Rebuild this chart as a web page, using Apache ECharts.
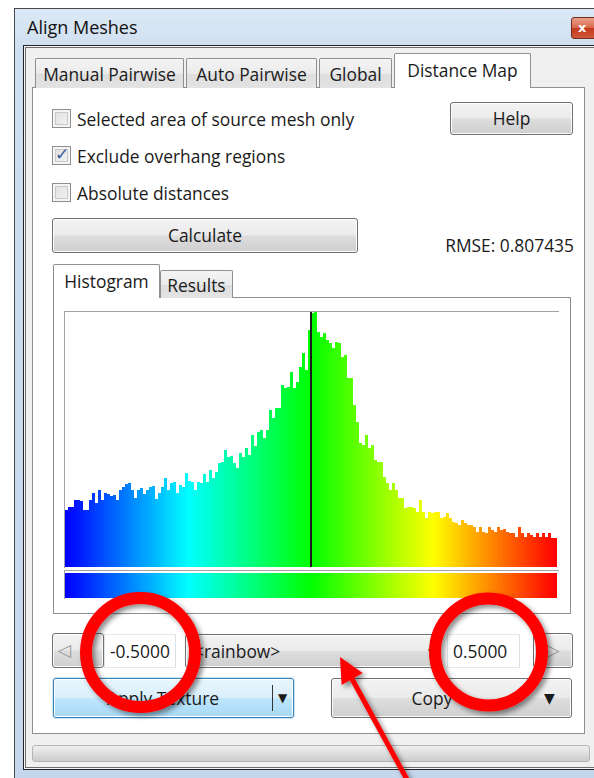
<!DOCTYPE html>
<html>
<head>
<meta charset="utf-8">
<title>Align Meshes</title>
<script src="https://cdn.jsdelivr.net/npm/echarts@6/dist/echarts.min.js"></script>
<style>
body{margin:0;width:594px;height:778px;overflow:hidden;background:#fff;position:relative;
  font-family:"Open Sans","Noto Sans",sans-serif;font-size:17.4px;color:#1a1a1a}
.a{position:absolute;box-sizing:border-box}
.win{left:14px;top:8px;width:600px;height:790px;border:1px solid #4a4a4a;
  background:linear-gradient(180deg,#dce8f5 0,#cfdff0 40px,#c4d6ec 100%)}
.title{left:27px;top:15px;font-size:18px;color:#111}
.close{left:571px;top:17px;width:30px;height:22px;border:1px solid #6e2d1f;border-radius:3px;
  background:linear-gradient(180deg,#e9a08a 0,#d8664a 50%,#c2391f 51%,#d0563a 100%);
  color:#fff;font:bold 13px "DejaVu Sans";line-height:19px;padding-left:6px}
.client{left:23px;top:45px;width:600px;height:725px;border:1px solid #222;background:#f0f0f0;
  box-shadow:inset 0 0 0 1px #f7f7f7,inset 0 0 0 2px #6d6d6d}
.pane{border:1px solid #8e8f8f;background:#fff}
.tab{border:1px solid #8e8f8f;border-bottom:none;border-radius:2px 2px 0 0;
  background:linear-gradient(180deg,#f4f4f4 0,#ebebeb 50%,#dedede 51%,#e3e3e3 100%);
  text-align:center;white-space:nowrap}
.tab.sel{background:#fff;z-index:2}
.cb{width:19px;height:19px;border:1px solid #8f8f8f;
  background:linear-gradient(135deg,#dcdcdc 0,#f6f6f6 100%);box-shadow:inset 0 0 0 2px #f4f4f4,inset 0 0 0 3px #c9c9c9}
.lbl{white-space:nowrap;line-height:20px}
.btn{border:1px solid #707070;border-radius:3px;text-align:center;white-space:nowrap;
  background:linear-gradient(180deg,#f3f3f3 0,#ebebeb 48%,#dddddd 52%,#cfcfcf 100%);
  box-shadow:inset 0 0 0 1px #fcfcfc}
.btn.def{border:1px solid #3c7fb1;
  background:linear-gradient(180deg,#eaf6fd 0,#d9f0fc 48%,#bee6fd 52%,#a7d9f5 100%);
  box-shadow:inset 0 0 0 1px #fff, 0 0 0 1px #cbe6f7}
.edit{border:1px solid #abadb3;background:#fff;border-top-color:#e3e9ef;border-left-color:#e2e3ea;
  border-right-color:#dbdfe6;border-bottom-color:#e3e9ef;line-height:32px;padding-left:5px;white-space:nowrap}
.frame{border-left:1px solid #a3a3a3;border-top:1px solid #a3a3a3}
</style>
</head>
<body>
<div class="a win"></div>
<div class="a title">Align Meshes</div>
<div class="a close">x</div>
<div class="a client"></div>

<!-- main tab control -->
<div class="a pane" style="left:32px;top:87px;width:553px;height:647px"></div>
<div class="a tab" style="left:35px;top:58px;width:149px;height:30px;line-height:30px">Manual Pairwise</div>
<div class="a tab" style="left:186px;top:58px;width:131px;height:30px;line-height:30px">Auto Pairwise</div>
<div class="a tab" style="left:319px;top:58px;width:73px;height:30px;line-height:30px">Global</div>
<div class="a tab sel" style="left:394px;top:53px;width:137px;height:35px;line-height:32px">Distance Map</div>

<div class="a cb" style="left:52px;top:109px"></div>
<div class="a lbl" style="left:77px;top:109px">Selected area of source mesh only</div>
<div class="a cb" style="left:52px;top:146px"></div>
<div class="a" style="left:55px;top:144px;font:bold 17px 'DejaVu Sans';color:#3c5a9a">&#10003;</div>
<div class="a lbl" style="left:77px;top:146px">Exclude overhang regions</div>
<div class="a cb" style="left:52px;top:183px"></div>
<div class="a lbl" style="left:77px;top:183px">Absolute distances</div>

<div class="a btn" style="left:450px;top:102px;width:123px;height:33px;line-height:31px">Help</div>
<div class="a btn" style="left:52px;top:218px;width:306px;height:35px;line-height:33px">Calculate</div>
<div class="a lbl" style="right:20px;top:235px">RMSE: 0.807435</div>

<!-- histogram tab control -->
<div class="a pane" style="left:53px;top:297px;width:518px;height:317px"></div>
<div class="a tab sel" style="left:53px;top:264px;width:107px;height:34px;line-height:32px">Histogram</div>
<div class="a tab" style="left:160px;top:270px;width:73px;height:28px;line-height:28px">Results</div>
<div class="a frame" style="left:64px;top:311px;width:495px;height:257px"></div>
<div class="a frame" style="left:64px;top:570px;width:495px;height:29px"></div>
<div class="a" id="hist" style="left:53px;top:297px;width:518px;height:317px"></div>

<!-- range row -->
<div class="a btn" style="left:52px;top:633px;width:52px;height:35px;line-height:33px;color:#9a9a9a;text-align:left;padding-left:5px;font-family:'DejaVu Sans'">&#9665;</div>
<div class="a edit" id="minBox" style="left:104px;top:634px;width:72px;height:34px"></div>
<div class="a btn" style="left:185px;top:634px;width:254px;height:34px;line-height:32px;text-align:left;padding-left:8px">&lt;rainbow&gt;<span style="position:absolute;left:240px;top:0;font-size:10px">&#9660;</span></div>
<div class="a edit" id="maxBox" style="left:447px;top:634px;width:73px;height:34px"></div>
<div class="a btn" style="left:533px;top:633px;width:40px;height:35px;line-height:33px;color:#9a9a9a;font-family:'DejaVu Sans'">&#9655;</div>

<div class="a btn def" style="left:53px;top:678px;width:241px;height:40px;line-height:38px">
  <span style="position:absolute;left:0;width:218px;text-align:center">Apply Texture</span>
  <span style="position:absolute;left:218px;top:6px;width:1px;height:26px;background:#333"></span>
  <span style="position:absolute;left:224px;top:0;font-size:12px;font-family:'DejaVu Sans'">&#9660;</span>
</div>
<div class="a btn" style="left:331px;top:678px;width:241px;height:40px;line-height:38px">
  <span style="position:absolute;left:0;width:200px;text-align:center">Copy</span>
  <span style="position:absolute;left:212px;top:0;font-size:14px;font-family:'DejaVu Sans'">&#9660;</span>
</div>

<div class="a" style="left:32px;top:745px;width:558px;height:17px;border:1px solid #b4b4b4;border-radius:3px;
  background:linear-gradient(180deg,#f0f0f0 0,#dedede 50%,#cccccc 100%)"></div>

<!-- annotations -->
<svg class="a" style="left:0;top:0" width="594" height="778">
  <defs>
    <filter id="sh" x="-20%" y="-20%" width="140%" height="140%">
      <feDropShadow dx="3" dy="3" stdDeviation="2.5" flood-color="#000" flood-opacity="0.45"/>
    </filter>
  </defs>
  <g filter="url(#sh)">
    <circle cx="140.5" cy="652.5" r="54.5" fill="none" stroke="#ff0000" stroke-width="12"/>
    <circle cx="488.5" cy="652" r="53.5" fill="none" stroke="#ff0000" stroke-width="12"/>
    <line x1="351" y1="677" x2="410" y2="785" stroke="#ff0000" stroke-width="5"/>
    <polygon points="340,657 341.6,685 362.6,673" fill="#ff0000"/>
  </g>
</svg>

<script>
// histogram of signed distances, 164 bins over the displayed range
const rangeMin = -0.5;
const rangeMax = 0.5;
const rangeLabels = ['-0.5000', '0.5000'];
const markerValue = 0;
const rainbow = ['#0000ff', '#00ffff', '#00ff00', '#ffff00', '#ff0000'];
const counts = [
  57, 60, 60, 67, 67, 66, 57, 57, 67, 74,
  64, 77, 67, 74, 73, 71, 72, 67, 77, 80,
  83, 84, 77, 69, 77, 79, 73, 77, 80, 81,
  68, 74, 80, 89, 77, 84, 85, 74, 82, 80,
  94, 86, 85, 77, 85, 84, 93, 85, 97, 89,
  95, 104, 105, 117, 110, 111, 104, 99, 114, 110,
  119, 112, 132, 121, 135, 137, 129, 137, 157, 149,
  159, 159, 182, 179, 180, 195, 179, 185, 200, 214,
  197, 237, 254, 255, 235, 230, 234, 227, 224, 219,
  225, 224, 210, 212, 189, 189, 162, 145, 124, 122,
  132, 119, 122, 107, 105, 105, 90, 84, 77, 84,
  77, 69, 69, 59, 60, 60, 59, 55, 67, 55,
  49, 55, 54, 55, 55, 49, 50, 54, 49, 45,
  44, 42, 47, 44, 42, 42, 40, 35, 40, 35,
  34, 40, 37, 35, 40, 37, 38, 35, 34, 34,
  30, 40, 34, 30, 34, 32, 30, 34, 30, 34,
  30, 34, 29, 29
];
const binIds = counts.map((c, i) => i);

document.getElementById('minBox').textContent = rangeLabels[0];
document.getElementById('maxBox').textContent = rangeLabels[1];

const chart = echarts.init(document.getElementById('hist'));
chart.setOption({
  animation: false,
  grid: [
    {left: 12, top: 15, width: 492, height: 255},
    {left: 12, top: 276, width: 492, height: 25}
  ],
  xAxis: [
    {type: 'category', gridIndex: 0, data: binIds, show: false},
    {type: 'value', gridIndex: 0, min: rangeMin, max: rangeMax, show: false},
    {type: 'category', gridIndex: 1, data: binIds, show: false}
  ],
  yAxis: [
    {type: 'value', gridIndex: 0, min: 0, max: 255, show: false},
    {type: 'value', gridIndex: 1, min: 0, max: 1, show: false}
  ],
  visualMap: {
    show: false,
    type: 'continuous',
    dimension: 0,
    min: 0,
    max: counts.length - 1,
    seriesIndex: [0, 2],
    inRange: {color: rainbow}
  },
  series: [
    {
      type: 'bar',
      xAxisIndex: 0, yAxisIndex: 0,
      barWidth: '100%',
      data: counts.map((c, i) => [i, c])
    },
    {
      type: 'line',
      xAxisIndex: 1, yAxisIndex: 0,
      symbol: 'none',
      data: [],
      markLine: {
        silent: true,
        symbol: ['none', 'none'],
        label: {show: false},
        lineStyle: {color: '#1c1c1c', width: 2, type: 'solid'},
        data: [{xAxis: markerValue}]
      }
    },
    {
      type: 'bar',
      xAxisIndex: 2, yAxisIndex: 1,
      barWidth: '100%',
      data: binIds.map(i => [i, 1])
    }
  ]
});
</script>
</body>
</html>
